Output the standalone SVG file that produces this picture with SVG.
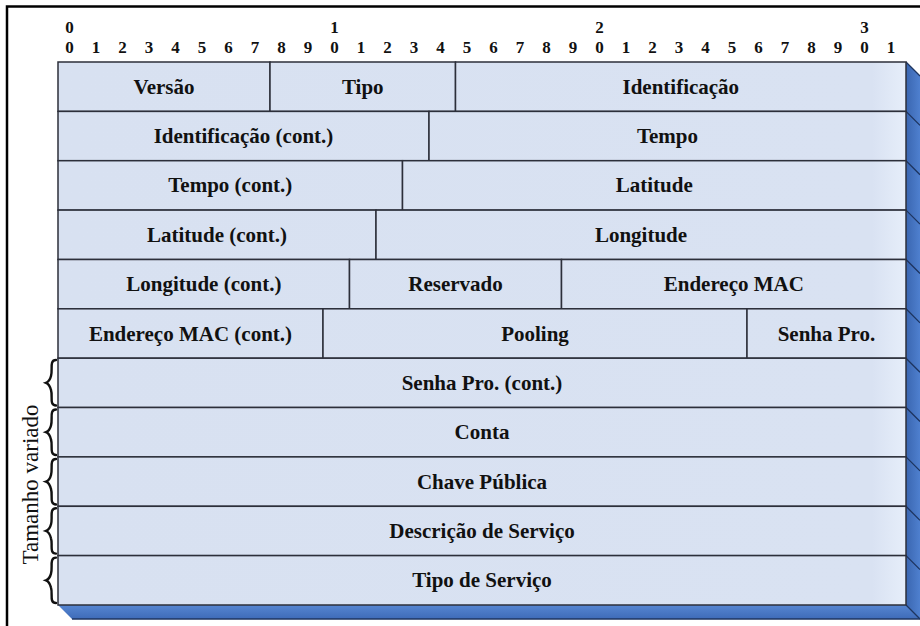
<svg xmlns="http://www.w3.org/2000/svg" width="920" height="626" viewBox="0 0 920 626">
  <defs>
    <linearGradient id="cellFill" gradientUnits="userSpaceOnUse" x1="58" y1="0" x2="906" y2="0">
      <stop offset="0" stop-color="#d8e1f1"/>
      <stop offset="0.96" stop-color="#d9e2f2"/>
      <stop offset="1" stop-color="#e6eefa"/>
    </linearGradient>
    <linearGradient id="sideFill" gradientUnits="userSpaceOnUse" x1="906" y1="0" x2="920" y2="0">
      <stop offset="0" stop-color="#3a66b0"/>
      <stop offset="1" stop-color="#4f80cf"/>
    </linearGradient>
    <linearGradient id="baseFill" gradientUnits="userSpaceOnUse" x1="0" y1="605" x2="0" y2="619">
      <stop offset="0" stop-color="#5686d2"/>
      <stop offset="1" stop-color="#3e6bb8"/>
    </linearGradient>
  </defs>
  <style>
    .cell { fill: url(#cellFill); stroke: #2c2f3a; stroke-width: 1.5; }
    .lbl { font-family: "Liberation Serif", "Times New Roman", serif; font-weight: bold; font-size: 21px; fill: #111; text-anchor: middle; }
    .bit { font-family: "Liberation Serif", "Times New Roman", serif; font-weight: bold; font-size: 17px; fill: #111; text-anchor: middle; }
    .side { fill: none; stroke: #1e3560; stroke-width: 1.3; }
    .brace { fill: none; stroke: #111; stroke-width: 2.4; stroke-linecap: round; }
    .note { font-family: "Liberation Serif", "Times New Roman", serif; font-size: 23px; fill: #111; text-anchor: middle; }
  </style>

  <rect width="920" height="626" fill="#ffffff"/>
  <!-- outer frame -->
  <path d="M7 626 V6.5 H920" fill="none" stroke="#000" stroke-width="2.5"/>

  <!-- bit ruler -->
  <g id="ruler">
    <text class="bit" x="69.5" y="33">0</text>
    <text class="bit" x="334.5" y="33">1</text>
    <text class="bit" x="599.5" y="33">2</text>
    <text class="bit" x="864.5" y="33">3</text>
    <text class="bit" x="69.5" y="53">0</text>
    <text class="bit" x="96" y="53">1</text>
    <text class="bit" x="122.5" y="53">2</text>
    <text class="bit" x="149" y="53">3</text>
    <text class="bit" x="175.5" y="53">4</text>
    <text class="bit" x="202" y="53">5</text>
    <text class="bit" x="228.5" y="53">6</text>
    <text class="bit" x="255" y="53">7</text>
    <text class="bit" x="281.5" y="53">8</text>
    <text class="bit" x="308" y="53">9</text>
    <text class="bit" x="334.5" y="53">0</text>
    <text class="bit" x="361" y="53">1</text>
    <text class="bit" x="387.5" y="53">2</text>
    <text class="bit" x="414" y="53">3</text>
    <text class="bit" x="440.5" y="53">4</text>
    <text class="bit" x="467" y="53">5</text>
    <text class="bit" x="493.5" y="53">6</text>
    <text class="bit" x="520" y="53">7</text>
    <text class="bit" x="546.5" y="53">8</text>
    <text class="bit" x="573" y="53">9</text>
    <text class="bit" x="599.5" y="53">0</text>
    <text class="bit" x="626" y="53">1</text>
    <text class="bit" x="652.5" y="53">2</text>
    <text class="bit" x="679" y="53">3</text>
    <text class="bit" x="705.5" y="53">4</text>
    <text class="bit" x="732" y="53">5</text>
    <text class="bit" x="758.5" y="53">6</text>
    <text class="bit" x="785" y="53">7</text>
    <text class="bit" x="811.5" y="53">8</text>
    <text class="bit" x="838" y="53">9</text>
    <text class="bit" x="864.5" y="53">0</text>
    <text class="bit" x="891" y="53">1</text>
  </g>

  <!-- 3D depth faces -->
  <g id="depth">
    <polygon points="906,62 920,76 920,619 906,605" fill="url(#sideFill)"/>
    <polygon points="58,605 906,605 920,619 72,619" fill="url(#baseFill)"/>
    <path class="side" d="M906 62 L920 76 M906 111.4 L920 125.4 M906 160.7 L920 174.7 M906 210.1 L920 224.1 M906 259.5 L920 273.5 M906 308.8 L920 322.8 M906 358.2 L920 372.2 M906 407.5 L920 421.5 M906 456.9 L920 470.9 M906 506.3 L920 520.3 M906 555.6 L920 569.6 M906 605 L920 619"/>
    <path d="M72 619 H920" fill="none" stroke="#1e3560" stroke-width="1.6"/>
  </g>

  <!-- row 1 -->
  <g id="versao"><rect class="cell" x="58" y="62" width="212" height="49.4"/><text class="lbl" x="164" y="93.7">Versão</text></g>
  <g id="tipo"><rect class="cell" x="270" y="62" width="185.5" height="49.4"/><text class="lbl" x="362.8" y="93.7">Tipo</text></g>
  <g id="identificacao"><rect class="cell" x="455.5" y="62" width="450.5" height="49.4"/><text class="lbl" x="680.8" y="93.7">Identificação</text></g>
  <!-- row 2 -->
  <g id="identificacao-cont"><rect class="cell" x="58" y="111.4" width="371" height="49.3"/><text class="lbl" x="243.5" y="143">Identificação (cont.)</text></g>
  <g id="tempo"><rect class="cell" x="429" y="111.4" width="477" height="49.3"/><text class="lbl" x="667.5" y="143">Tempo</text></g>
  <!-- row 3 -->
  <g id="tempo-cont"><rect class="cell" x="58" y="160.7" width="344.5" height="49.4"/><text class="lbl" x="230.3" y="192.4">Tempo (cont.)</text></g>
  <g id="latitude"><rect class="cell" x="402.5" y="160.7" width="503.5" height="49.4"/><text class="lbl" x="654.3" y="192.4">Latitude</text></g>
  <!-- row 4 -->
  <g id="latitude-cont"><rect class="cell" x="58" y="210.1" width="318" height="49.4"/><text class="lbl" x="217" y="241.8">Latitude (cont.)</text></g>
  <g id="longitude"><rect class="cell" x="376" y="210.1" width="530" height="49.4"/><text class="lbl" x="641" y="241.8">Longitude</text></g>
  <!-- row 5 -->
  <g id="longitude-cont"><rect class="cell" x="58" y="259.5" width="291.5" height="49.3"/><text class="lbl" x="203.8" y="291.2">Longitude (cont.)</text></g>
  <g id="reservado"><rect class="cell" x="349.5" y="259.5" width="212" height="49.3"/><text class="lbl" x="455.5" y="291.2">Reservado</text></g>
  <g id="endereco-mac"><rect class="cell" x="561.5" y="259.5" width="344.5" height="49.3"/><text class="lbl" x="733.8" y="291.2">Endereço MAC</text></g>
  <!-- row 6 -->
  <g id="endereco-mac-cont"><rect class="cell" x="58" y="308.8" width="265" height="49.4"/><text class="lbl" x="190.5" y="340.5">Endereço MAC (cont.)</text></g>
  <g id="pooling"><rect class="cell" x="323" y="308.8" width="424" height="49.4"/><text class="lbl" x="535" y="340.5">Pooling</text></g>
  <g id="senha-pro"><rect class="cell" x="747" y="308.8" width="159" height="49.4"/><text class="lbl" x="826.5" y="340.5">Senha Pro.</text></g>
  <!-- variable-length rows -->
  <g id="senha-pro-cont"><rect class="cell" x="58" y="358.2" width="848" height="49.3"/><text class="lbl" x="482" y="389.9">Senha Pro. (cont.)</text></g>
  <g id="conta"><rect class="cell" x="58" y="407.5" width="848" height="49.4"/><text class="lbl" x="482" y="439.2">Conta</text></g>
  <g id="chave-publica"><rect class="cell" x="58" y="456.9" width="848" height="49.4"/><text class="lbl" x="482" y="488.6">Chave Pública</text></g>
  <g id="descricao-servico"><rect class="cell" x="58" y="506.3" width="848" height="49.3"/><text class="lbl" x="482" y="538">Descrição de Serviço</text></g>
  <g id="tipo-servico"><rect class="cell" x="58" y="555.6" width="848" height="49.4"/><text class="lbl" x="482" y="587.3">Tipo de Serviço</text></g>

  <!-- braces marking the variable-size fields -->
  <g id="size-note">
    <path class="brace" d="M56 360 C49 360 53 370 51 376 C50 380 48 382 46 382.8 C48 383.6 50 386 51 390 C53 396 49 405.5 56 405.5"/>
    <path class="brace" d="M56 409.5 C49 409.5 53 419.5 51 425.5 C50 429.5 48 431.5 46 432.2 C48 433 50 435.5 51 439.5 C53 445.5 49 455 56 455"/>
    <path class="brace" d="M56 459 C49 459 53 469 51 475 C50 479 48 481 46 481.6 C48 482.4 50 485 51 489 C53 495 49 504.5 56 504.5"/>
    <path class="brace" d="M56 508.3 C49 508.3 53 518.3 51 524.3 C50 528.3 48 530.3 46 531 C48 531.8 50 534.3 51 538.3 C53 544.3 49 553.6 56 553.6"/>
    <path class="brace" d="M56 557.6 C49 557.6 53 567.6 51 573.6 C50 577.6 48 579.6 46 580.3 C48 581.1 50 583.6 51 587.6 C53 593.6 49 603 56 603"/>
    <text class="note" transform="translate(38 484.5) rotate(-90)">Tamanho variado</text>
  </g>
</svg>
